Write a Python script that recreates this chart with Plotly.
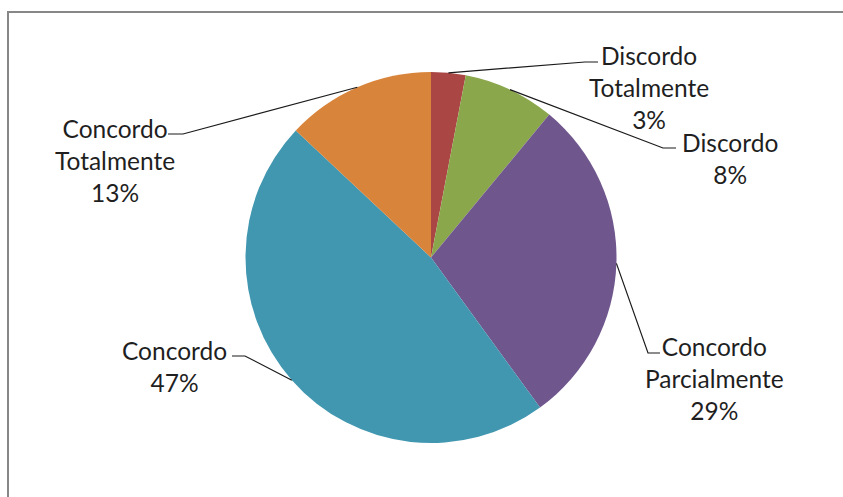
import math
import plotly.graph_objects as go

# Survey answers and their share (%)
categories = ["Discordo Totalmente", "Discordo", "Concordo Parcialmente",
              "Concordo", "Concordo Totalmente"]
values = [3, 8, 29, 47, 13]
label_lines = [["Discordo", "Totalmente"], ["Discordo"], ["Concordo", "Parcialmente"],
               ["Concordo"], ["Concordo", "Totalmente"]]
colors = ["#AA4644", "#8BA74C", "#6F568D", "#4197B0", "#D9843B"]

W, H = 843, 497
CX, CY, R = 431, 257.5, 185.5  # pie centre and radius in pixels

# label block centres (px) and leader-line elbows (px): (elbow_x, elbow_y, end_x)
label_pos = [(649, 87), (730, 158), (714, 378), (174, 366), (115, 160)]
elbows = [(585, 62, 598), (663, 148, 676), (648, 353, 660), (245, 356, 232), (183, 134, 168)]

def px(x):
    return x / W

def py(y):
    return 1 - y / H

fig = go.Figure(go.Pie(
    labels=categories,
    values=values,
    sort=False,
    direction="clockwise",
    rotation=0,
    textinfo="none",
    hoverinfo="label+percent",
    marker=dict(colors=colors, line=dict(width=0)),
    domain=dict(x=[px(CX - R), px(CX + R)], y=[py(CY + R), py(CY - R)]),
    showlegend=False,
))

shapes = [dict(type="line", xref="paper", yref="paper",
               x0=px(8), y0=-0.05, x1=px(8), y1=py(12),
               line=dict(color="#878787", width=2)),
          dict(type="line", xref="paper", yref="paper",
               x0=px(7), y0=py(12), x1=1.05, y1=py(12),
               line=dict(color="#878787", width=2))]
annotations = []

total = sum(values)
cum = 0
for cat, v, lines, (lx, ly), (ex, ey, hx) in zip(categories, values, label_lines, label_pos, elbows):
    mid = (cum + v / 2) / total * 2 * math.pi
    cum += v
    ax = CX + R * math.sin(mid)
    ay = CY - R * math.cos(mid)
    shapes.append(dict(type="path", xref="paper", yref="paper",
                       path=f"M {px(ax)},{py(ay)} L {px(ex)},{py(ey)} L {px(hx)},{py(ey)}",
                       line=dict(color="#1a1a1a", width=1.2)))
    pct = round(v / total * 100)
    text = "<br>".join(lines + [f"{pct}%"])
    annotations.append(dict(x=px(lx), y=py(ly), xref="paper", yref="paper",
                            text=text, showarrow=False, align="center",
                            xanchor="center", yanchor="middle",
                            font=dict(family="Lato, Liberation Sans, sans-serif",
                                      size=24.5, color="#1f1f1f")))

fig.update_layout(
    width=W, height=H,
    margin=dict(l=0, r=0, t=0, b=0),
    paper_bgcolor="white",
    plot_bgcolor="white",
    shapes=shapes,
    annotations=annotations,
)

fig.write_html("out.html")
